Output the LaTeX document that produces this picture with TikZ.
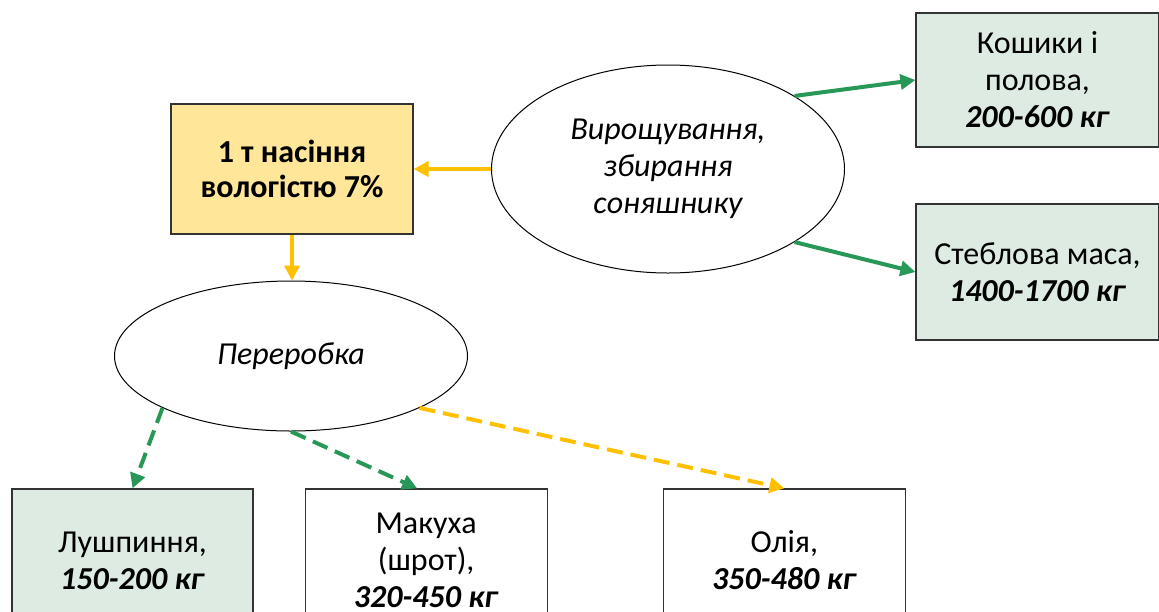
\documentclass[tikz,border=0pt]{standalone}
\usepackage{fontspec}
\setmainfont{Carlito}
\usetikzlibrary{arrows.meta,positioning,shapes.geometric}

\definecolor{seedfill}{RGB}{255,230,153}
\definecolor{leaffill}{RGB}{222,235,227}
\definecolor{flowyellow}{RGB}{255,192,0}
\definecolor{flowgreen}{RGB}{40,152,88}

\begin{document}
\begin{tikzpicture}[
    x=0.5pt, y=-0.5pt,
    font=\fontsize{16}{18.5}\selectfont,
    box/.style={
        rectangle,
        draw=black!80,
        line width=0.6pt,
        minimum width=121pt,
        minimum height=71.5pt,
        align=center,
        inner sep=0pt,
        fill=white
    },
    leafbox/.style={box, fill=leaffill},
    seedbox/.style={box, fill=seedfill, minimum height=65pt, font=\fontsize{16}{17.5}\selectfont\bfseries},
    oval/.style={
        ellipse,
        draw=black,
        line width=0.5pt,
        inner sep=0pt,
        align=center,
        font=\fontsize{16}{18.5}\selectfont\itshape
    },
    flow/.style={-{Triangle[length=7.5pt,width=7.5pt]}, line width=2pt},
    dashflow/.style={flow, dash pattern=on 8pt off 4pt}
]
\useasboundingbox (0,0) rectangle (1159,611);

% source and growing
\node[seedbox] (seed) at (292,169) {1 т насіння\\вологістю 7\%};
\node[oval, minimum width=176.5pt, minimum height=104pt] (grow) at (668,169)
    {Вирощування,\\збирання\\соняшнику};
\node[leafbox, minimum width=121.5pt, minimum height=67pt] (heads) at (1037.5,80)
    {Кошики і\\полова,\\\textbf{\textit{200-600 кг}}};
\node[leafbox, minimum width=121.5pt, minimum height=68pt] (stems) at (1037.5,272)
    {Стеблова маса,\\\textbf{\textit{1400-1700 кг}}};

% processing
\node[oval, minimum width=176.5pt, minimum height=75pt] (proc) at (291,356) {Переробка};
\node[leafbox, minimum width=120.5pt] (husk) at (132.5,560.5)
    {Лушпиння,\\\textbf{\textit{150-200 кг}}};
\node[box, right=25.5pt of husk] (cake) {Макуха\\(шрот),\\\textbf{\textit{320-450 кг}}};
\node[box, right=57.5pt of cake] (oil) {Олія,\\\textbf{\textit{350-480 кг}}};

\draw[flow, flowyellow] (grow.west) -- (seed.east);
\draw[flow, flowyellow] (seed.south) -- (seed.south |- proc.north);
\draw[flow, flowgreen] (grow.30.6) -- (heads.west);
\draw[flow, flowgreen] (grow.-30.6) -- (stems.west);

\draw[dashflow, flowgreen] (proc.202.75) -- (husk.north);
\draw[dashflow, flowgreen] (proc.south) -- ([xshift=-4.5pt]cake.north);
\draw[dashflow, flowyellow] (proc.-22.75) -- (oil.north);

\end{tikzpicture}
\end{document}
